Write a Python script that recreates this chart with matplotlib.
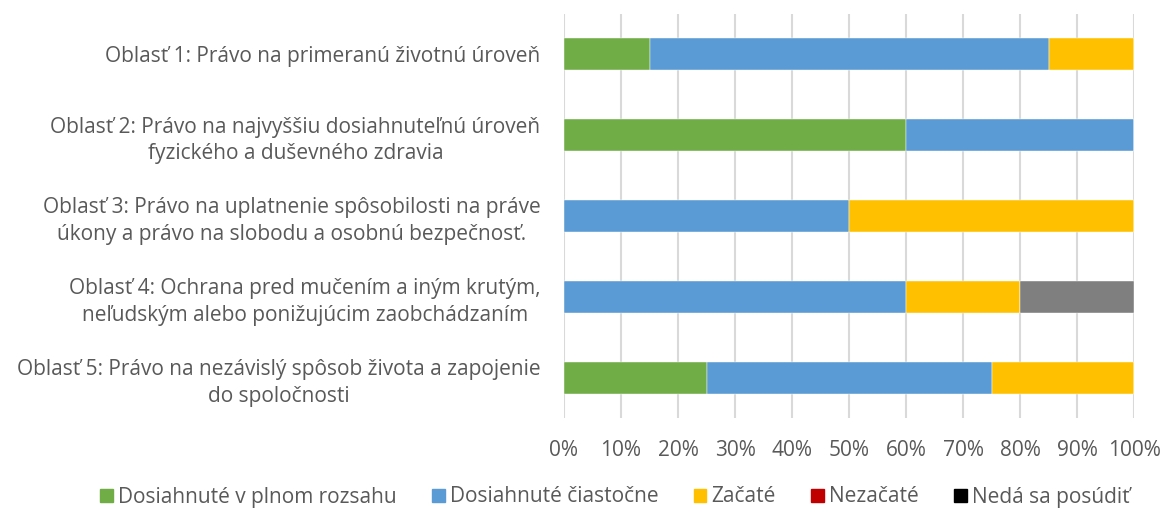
import matplotlib

matplotlib.use("Agg")
import matplotlib.pyplot as plt
from matplotlib.patches import Patch
from matplotlib.ticker import FuncFormatter

plt.rcParams["font.family"] = ["Open Sans", "DejaVu Sans"]

TEXT = "#595959"
GRID = "#d9d9d9"

areas = [
    "Oblasť 1: Právo na primeranú životnú úroveň",
    "Oblasť 2: Právo na najvyššiu dosiahnuteľnú úroveň\nfyzického a duševného zdravia",
    "Oblasť 3: Právo na uplatnenie spôsobilosti na práve\núkony a právo na slobodu a osobnú bezpečnosť.",
    "Oblasť 4: Ochrana pred mučením a iným krutým,\nneľudským alebo ponižujúcim zaobchádzaním",
    "Oblasť 5: Právo na nezávislý spôsob života a zapojenie\ndo spoločnosti",
]

series_names = ["Dosiahnuté v plnom rozsahu", "Dosiahnuté čiastočne", "Začaté",
                "Nezačaté", "Nedá sa posúdiť"]
full = [15, 60, 0, 0, 25]
partial = [70, 40, 50, 60, 50]
started = [15, 0, 50, 20, 25]
not_started = [0, 0, 0, 0, 0]
cannot = [0, 0, 0, 20, 0]

values = [full, partial, started, not_started, cannot]
bar_colors = ["#70ad47", "#5b9bd5", "#ffc000", "#c00000", "#7f7f7f"]
legend_colors = ["#70ad47", "#5b9bd5", "#ffc000", "#c00000", "#000000"]

fig = plt.figure(figsize=(11.64, 5.14), dpi=100)
ax = fig.add_axes([564 / 1164, 1 - 418 / 514, 570 / 1164, 404 / 514])

y = list(range(len(areas)))
left = [0] * len(areas)
for vals, col in zip(values, bar_colors):
    ax.barh(y, vals, left=left, height=0.395, color=col, edgecolor="white",
            linewidth=0.3, zorder=3)
    left = [a + b for a, b in zip(left, vals)]

ax.set_xlim(0, 100)
ax.set_ylim(len(areas) - 0.5, -0.5)
ax.set_xticks(range(0, 101, 10))
ax.xaxis.set_major_formatter(FuncFormatter(lambda v, p: f"{v:.0f}%"))
ax.set_yticks(y)
ax.set_yticklabels(areas, ha="right", multialignment="center", linespacing=1.35)
ax.tick_params(axis="x", length=0, pad=16, labelsize=15, labelcolor=TEXT)
ax.tick_params(axis="y", length=0, pad=17, labelsize=15, labelcolor=TEXT)
for s in ax.spines.values():
    s.set_visible(False)
ax.grid(axis="x", color=GRID, lw=1.5, zorder=0)
ax.set_axisbelow(True)

handles = [Patch(color=c, label=n) for c, n in zip(legend_colors, series_names)]
fig.legend(handles=handles, loc="center", bbox_to_anchor=(615 / 1164, 1 - 497 / 514),
           ncol=5, frameon=False, fontsize=15, labelcolor=TEXT,
           handlelength=0.6, handleheight=0.6, handletextpad=0.25, columnspacing=1.7)

fig.savefig("out.png", dpi=100)
